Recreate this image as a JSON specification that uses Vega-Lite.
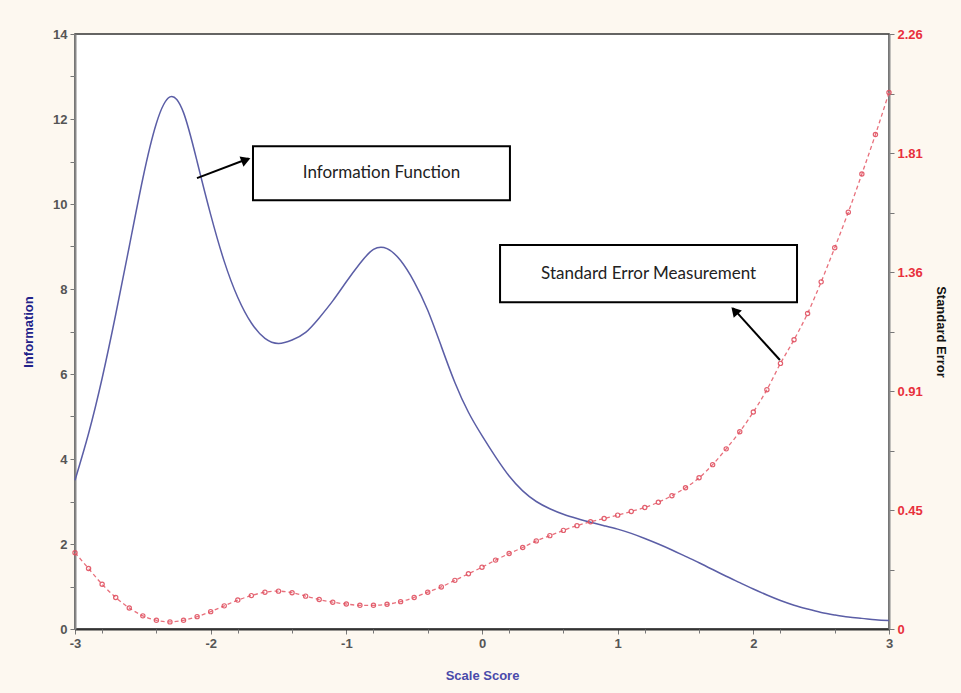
{
  "$schema": "https://vega.github.io/schema/vega-lite/v6.json",
  "width": 814,
  "height": 595,
  "autosize": "none",
  "padding": {"left": 75, "top": 34, "right": 72, "bottom": 64},
  "background": "#fdf8f0",
  "config": {
    "view": {"fill": "white", "stroke": "#333", "strokeWidth": 1.5},
    "axis": {
      "labelFont": "Liberation Sans Narrow, Liberation Sans, Arial",
      "labelFontSize": 13,
      "labelFontWeight": "bold",
      "labelColor": "#555",
      "labelOverlap": false,
      "titleFont": "Liberation Sans Narrow, Liberation Sans, Arial",
      "titleFontSize": 13,
      "titleFontWeight": "bold",
      "tickColor": "#777",
      "tickSize": 5,
      "domainColor": "#888",
      "domainWidth": 2,
      "grid": false
    }
  },
  "datasets": {
    "info": [
      {"score": -3.0, "information": 3.5}, {"score": -2.9, "information": 4.6}, {"score": -2.8, "information": 5.9},
      {"score": -2.7, "information": 7.4}, {"score": -2.6, "information": 9.0}, {"score": -2.5, "information": 10.6},
      {"score": -2.4, "information": 11.9}, {"score": -2.3, "information": 12.52}, {"score": -2.2, "information": 12.15},
      {"score": -2.1, "information": 11.0}, {"score": -2.0, "information": 9.75}, {"score": -1.9, "information": 8.65},
      {"score": -1.8, "information": 7.8}, {"score": -1.7, "information": 7.2}, {"score": -1.6, "information": 6.84},
      {"score": -1.5, "information": 6.72}, {"score": -1.4, "information": 6.8}, {"score": -1.3, "information": 6.98},
      {"score": -1.2, "information": 7.32}, {"score": -1.1, "information": 7.72}, {"score": -1.0, "information": 8.17},
      {"score": -0.9, "information": 8.6}, {"score": -0.8, "information": 8.93}, {"score": -0.7, "information": 8.95},
      {"score": -0.6, "information": 8.67}, {"score": -0.5, "information": 8.17}, {"score": -0.4, "information": 7.5},
      {"score": -0.3, "information": 6.65}, {"score": -0.2, "information": 5.8}, {"score": -0.1, "information": 5.1},
      {"score": 0.0, "information": 4.55}, {"score": 0.1, "information": 4.05}, {"score": 0.2, "information": 3.6},
      {"score": 0.3, "information": 3.25}, {"score": 0.4, "information": 3.0}, {"score": 0.5, "information": 2.83},
      {"score": 0.6, "information": 2.7}, {"score": 0.7, "information": 2.6}, {"score": 0.8, "information": 2.51},
      {"score": 0.9, "information": 2.43}, {"score": 1.0, "information": 2.35}, {"score": 1.1, "information": 2.25},
      {"score": 1.2, "information": 2.13}, {"score": 1.3, "information": 2.0}, {"score": 1.4, "information": 1.86},
      {"score": 1.5, "information": 1.71}, {"score": 1.6, "information": 1.56}, {"score": 1.7, "information": 1.4},
      {"score": 1.8, "information": 1.24}, {"score": 1.9, "information": 1.09}, {"score": 2.0, "information": 0.94},
      {"score": 2.1, "information": 0.8}, {"score": 2.2, "information": 0.67}, {"score": 2.3, "information": 0.56},
      {"score": 2.4, "information": 0.47}, {"score": 2.5, "information": 0.39}, {"score": 2.6, "information": 0.33},
      {"score": 2.7, "information": 0.28}, {"score": 2.8, "information": 0.25}, {"score": 2.9, "information": 0.22},
      {"score": 3.0, "information": 0.2}
    ],
    "se": [
      {"score": -3.0, "error": 0.29}, {"score": -2.9, "error": 0.23}, {"score": -2.8, "error": 0.17},
      {"score": -2.7, "error": 0.12}, {"score": -2.6, "error": 0.08}, {"score": -2.5, "error": 0.05},
      {"score": -2.4, "error": 0.033}, {"score": -2.3, "error": 0.027}, {"score": -2.2, "error": 0.033},
      {"score": -2.1, "error": 0.047}, {"score": -2.0, "error": 0.066}, {"score": -1.9, "error": 0.088},
      {"score": -1.8, "error": 0.11}, {"score": -1.7, "error": 0.127}, {"score": -1.6, "error": 0.14},
      {"score": -1.5, "error": 0.144}, {"score": -1.4, "error": 0.138}, {"score": -1.3, "error": 0.125},
      {"score": -1.2, "error": 0.112}, {"score": -1.1, "error": 0.102}, {"score": -1.0, "error": 0.095},
      {"score": -0.9, "error": 0.09}, {"score": -0.8, "error": 0.09}, {"score": -0.7, "error": 0.094},
      {"score": -0.6, "error": 0.104}, {"score": -0.5, "error": 0.12}, {"score": -0.4, "error": 0.14},
      {"score": -0.3, "error": 0.16}, {"score": -0.2, "error": 0.185}, {"score": -0.1, "error": 0.21},
      {"score": 0.0, "error": 0.235}, {"score": 0.1, "error": 0.262}, {"score": 0.2, "error": 0.287},
      {"score": 0.3, "error": 0.31}, {"score": 0.4, "error": 0.335}, {"score": 0.5, "error": 0.355},
      {"score": 0.6, "error": 0.375}, {"score": 0.7, "error": 0.393}, {"score": 0.8, "error": 0.408},
      {"score": 0.9, "error": 0.42}, {"score": 1.0, "error": 0.433}, {"score": 1.1, "error": 0.447},
      {"score": 1.2, "error": 0.462}, {"score": 1.3, "error": 0.482}, {"score": 1.4, "error": 0.507},
      {"score": 1.5, "error": 0.537}, {"score": 1.6, "error": 0.575}, {"score": 1.7, "error": 0.625},
      {"score": 1.8, "error": 0.685}, {"score": 1.9, "error": 0.75}, {"score": 2.0, "error": 0.825},
      {"score": 2.1, "error": 0.91}, {"score": 2.2, "error": 1.01}, {"score": 2.3, "error": 1.1},
      {"score": 2.4, "error": 1.2}, {"score": 2.5, "error": 1.32}, {"score": 2.6, "error": 1.45},
      {"score": 2.7, "error": 1.585}, {"score": 2.8, "error": 1.73}, {"score": 2.9, "error": 1.88},
      {"score": 3.0, "error": 2.04}
    ],
    "boxes": [
      {"x1": -1.688, "x2": 0.206, "y1": 11.36, "y2": 10.09, "xc": -0.741, "yc": 10.73, "label": "Information Function"},
      {"x1": 0.133, "x2": 2.322, "y1": 9.035, "y2": 7.69, "xc": 1.228, "yc": 8.36, "label": "Standard Error Measurement"}
    ],
    "arrows": [
      {"xs": -2.101, "ys": 10.61, "xe": -1.72, "ye": 11.07, "xh": -1.74, "yh": 11.035, "angle": 69},
      {"xs": 2.196, "ys": 6.33, "xe": 1.85, "ye": 7.55, "xh": 1.862, "yh": 7.49, "angle": 318}
    ]
  },
  "layer": [
    {
      "layer": [
        {
          "data": {"name": "info"},
          "mark": {"type": "line", "color": "#5b5ea6", "strokeWidth": 1.5, "interpolate": "natural"},
          "encoding": {
            "x": {
              "field": "score", "type": "quantitative", "title": "Scale Score",
              "scale": {"domain": [-3, 3], "nice": false, "zero": false},
              "axis": {
                "titleColor": "#4a4aaa",
                "titlePadding": 19,
                "values": [-3, -2, -1, 0, 1, 2, 3],
                "labelExpr": "'' + datum.value",
                "labelOverlap": false,
                "labelFlush": false,
                "domainColor": "#333",
                "labelPadding": 3
              }
            },
            "y": {
              "field": "information", "type": "quantitative", "title": "Information",
              "scale": {"domain": [0, 14], "nice": false},
              "axis": {
                "titleColor": "#23238a",
                "titlePadding": 17,
                "values": [0, 0.5, 1, 1.5, 2, 2.5, 3, 3.5, 4, 4.5, 5, 5.5, 6, 6.5, 7, 7.5, 8, 8.5, 9, 9.5, 10, 10.5, 11, 11.5, 12, 12.5, 13, 13.5, 14],
                "labelExpr": "datum.value % 2 == 0 ? '' + datum.value : ''",
                "labelPadding": 3
              }
            }
          }
        },
        {
          "data": {"name": "boxes"},
          "mark": {"type": "rect", "fill": "white", "stroke": "black", "strokeWidth": 2},
          "encoding": {
            "x": {"field": "x1", "type": "quantitative", "title": "Scale Score"},
            "x2": {"field": "x2"},
            "y": {"field": "y1", "type": "quantitative", "title": "Information"},
            "y2": {"field": "y2"}
          }
        },
        {
          "data": {"name": "boxes"},
          "mark": {"type": "text", "font": "Lato, Open Sans, sans-serif", "fontSize": 17, "color": "#222", "align": "center", "baseline": "middle"},
          "encoding": {
            "x": {"field": "xc", "type": "quantitative", "title": "Scale Score"},
            "y": {"field": "yc", "type": "quantitative", "title": "Information"},
            "text": {"field": "label"}
          }
        },
        {
          "data": {"name": "arrows"},
          "mark": {"type": "rule", "color": "black", "strokeWidth": 2},
          "encoding": {
            "x": {"field": "xs", "type": "quantitative", "title": "Scale Score"},
            "x2": {"field": "xe"},
            "y": {"field": "ys", "type": "quantitative", "title": "Information"},
            "y2": {"field": "ye"}
          }
        },
        {
          "data": {"name": "arrows"},
          "mark": {"type": "point", "shape": "triangle-up", "filled": true, "color": "black", "size": 120, "opacity": 1},
          "encoding": {
            "x": {"field": "xh", "type": "quantitative", "title": "Scale Score"},
            "y": {"field": "yh", "type": "quantitative", "title": "Information"},
            "angle": {"field": "angle", "type": "quantitative", "scale": null}
          }
        }
      ]
    },
    {
      "layer": [
        {
          "data": {"name": "se"},
          "mark": {"type": "line", "color": "#e8707c", "strokeWidth": 1.3, "strokeDash": [4, 3], "interpolate": "monotone"},
          "encoding": {
            "x": {
              "field": "score", "type": "quantitative", "title": null,
              "scale": {"domain": [-3, 3], "nice": false, "zero": false},
              "axis": {
                "orient": "bottom",
                "values": [-2.8, -2.6, -2.4, -2.2, -1.8, -1.6, -1.4, -1.2, -0.8, -0.6, -0.4, -0.2, 0.2, 0.4, 0.6, 0.8, 1.2, 1.4, 1.6, 1.8, 2.2, 2.4, 2.6, 2.8],
                "labels": false,
                "domain": false,
                "tickSize": 4
              }
            },
            "y": {
              "field": "error", "type": "quantitative", "title": "Standard Error",
              "scale": {"domain": [0, 2.2625], "nice": false},
              "axis": {
                "orient": "right",
                "titleColor": "#111",
                "titlePadding": 11,
                "labelColor": "#e8303c",
                "values": [0, 0.22625, 0.4525, 0.67875, 0.905, 1.13125, 1.3575, 1.58375, 1.81, 2.03625, 2.2625],
                "labelExpr": "['0','','0.45','','0.91','','1.36','','1.81','','2.26'][round(datum.value / 0.22625)]",
                "labelPadding": 3
              }
            }
          }
        },
        {
          "data": {"name": "se"},
          "mark": {"type": "point", "shape": "circle", "filled": false, "color": "#e05060", "size": 18, "strokeWidth": 1.2, "opacity": 0.9},
          "encoding": {
            "x": {"field": "score", "type": "quantitative", "title": null},
            "y": {"field": "error", "type": "quantitative", "title": "Standard Error"}
          }
        }
      ]
    }
  ],
  "resolve": {"scale": {"y": "independent", "x": "independent"}}
}
